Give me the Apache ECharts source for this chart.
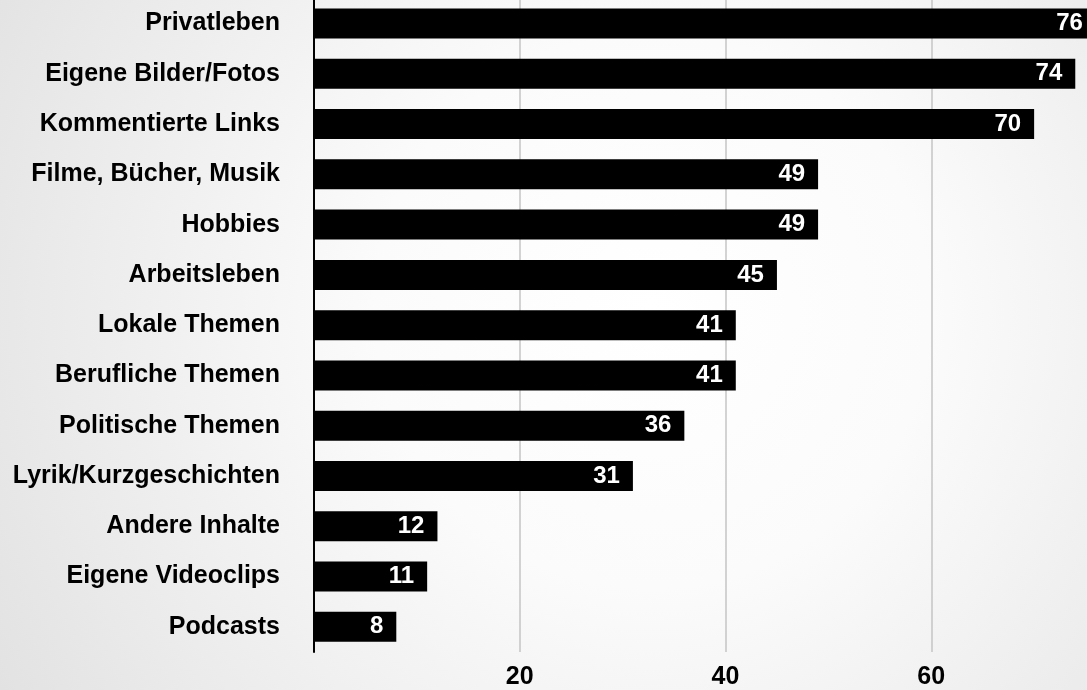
<!DOCTYPE html>
<html>
<head>
<meta charset="utf-8">
<script src="https://cdn.jsdelivr.net/npm/echarts@6/dist/echarts.min.js"></script>
<style>
  html, body { margin: 0; padding: 0; }
  #main { width: 1087px; height: 690px; }
</style>
</head>
<body>
<div id="main"></div>
<script>
var categories = [
  "Privatleben",
  "Eigene Bilder/Fotos",
  "Kommentierte Links",
  "Filme, Bücher, Musik",
  "Hobbies",
  "Arbeitsleben",
  "Lokale Themen",
  "Berufliche Themen",
  "Politische Themen",
  "Lyrik/Kurzgeschichten",
  "Andere Inhalte",
  "Eigene Videoclips",
  "Podcasts"
]
var values = [76, 74, 70, 49, 49, 45, 41, 41, 36, 31, 12, 11, 8]
var tickValues = [20, 40, 60]

var font = "'Liberation Sans', Helvetica, Arial, sans-serif"
var chartDom = document.getElementById("main")
var myChart = echarts.init(chartDom)
var option = {
  animation: false,
  backgroundColor: {
    type: "radial",
    x: 0.6,
    y: 0.45,
    r: 1.15,
    colorStops: [
      { offset: 0, color: "#ffffff" },
      { offset: 0.35, color: "#fbfbfb" },
      { offset: 1, color: "#e0e0e0" }
    ]
  },
  grid: {
    left: 314,
    top: -1.6,
    width: 823,
    height: 653.5,
    outerBoundsMode: "none"
  },
  xAxis: {
    type: "value",
    min: 0,
    max: 80,
    interval: 20,
    axisLine: { show: false },
    axisTick: { show: false },
    splitLine: {
      show: true,
      lineStyle: { color: "#c4c4c4", width: 1.5 }
    },
    axisLabel: {
      margin: 13,
      color: "#000",
      fontFamily: font,
      fontWeight: "bold",
      fontSize: 25,
      formatter: function (v) {
        return tickValues.indexOf(v) >= 0 ? String(v) : ""
      }
    }
  },
  yAxis: {
    type: "category",
    inverse: true,
    data: categories,
    axisTick: { show: false },
    axisLine: {
      show: true,
      lineStyle: { color: "#000", width: 2 }
    },
    axisLabel: {
      margin: 34,
      color: "#000",
      fontFamily: font,
      fontWeight: "bold",
      fontSize: 25
    }
  },
  series: [
    {
      type: "bar",
      data: values,
      barWidth: 30,
      itemStyle: { color: "#000" },
      label: {
        show: true,
        position: "insideRight",
        distance: 13,
        color: "#fff",
        fontFamily: font,
        fontWeight: "bold",
        fontSize: 24
      }
    }
  ]
}

option && myChart.setOption(option)
</script>
</body>
</html>
